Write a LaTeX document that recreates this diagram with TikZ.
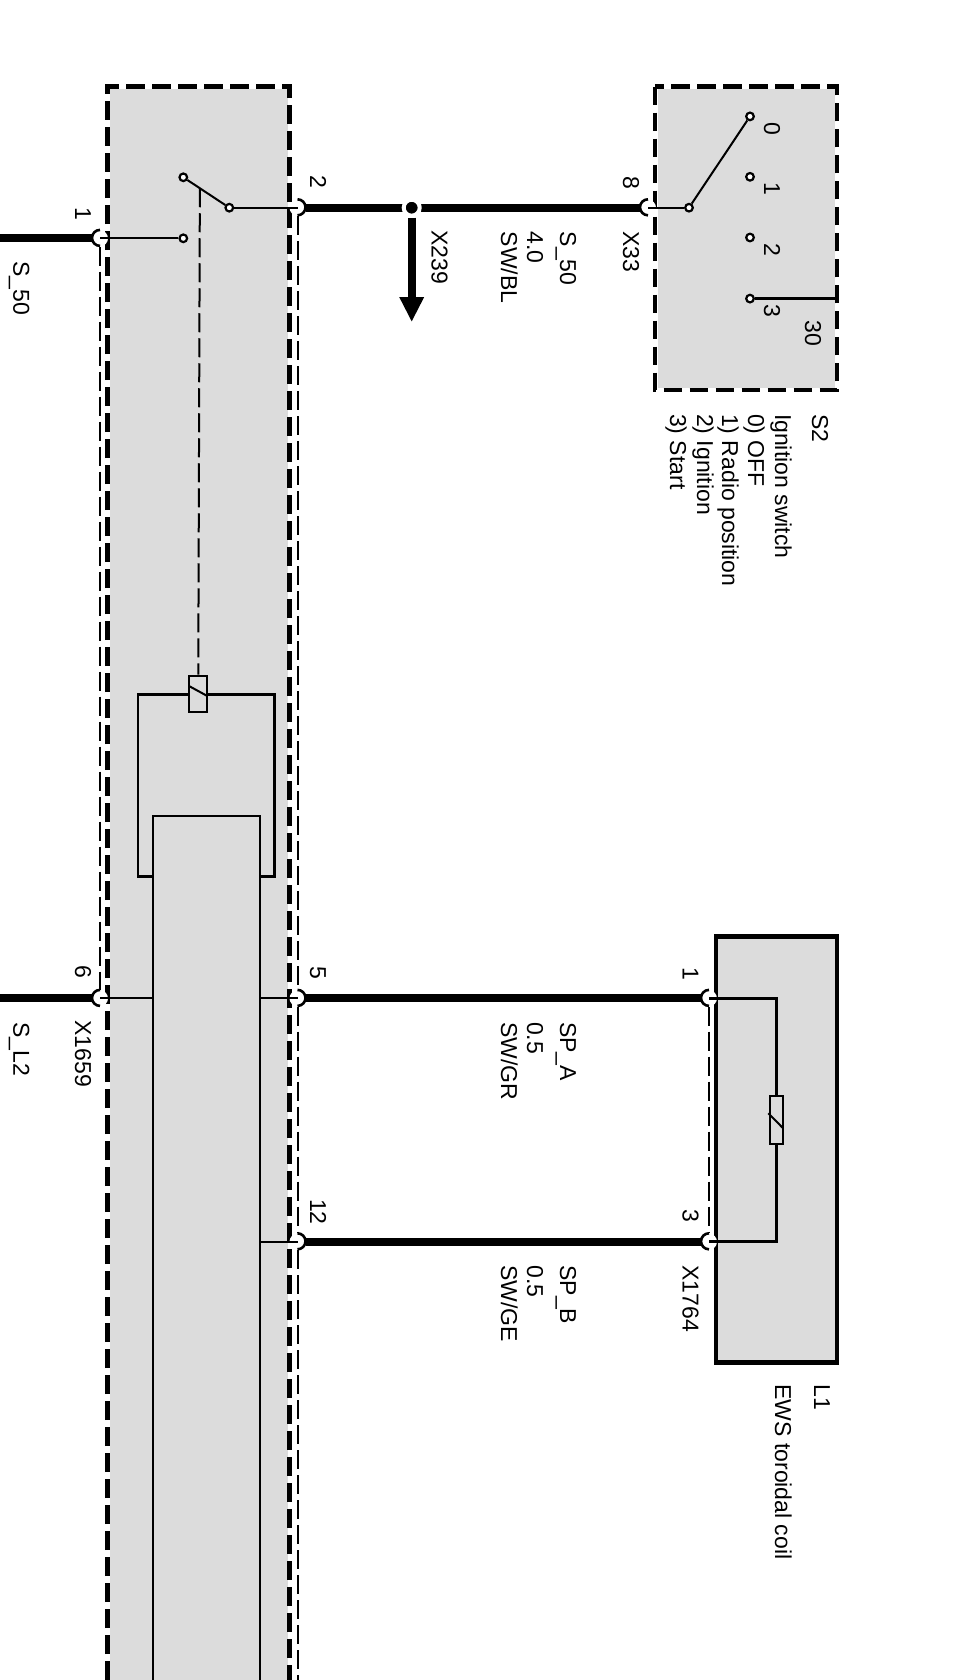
\documentclass[tikz,border=0pt]{standalone}
\usepackage{fontspec}
\setmainfont{Liberation Sans}
\usetikzlibrary{arrows.meta}

\definecolor{boxgray}{HTML}{DCDCDC}

\begin{document}
\begin{tikzpicture}[x=0.5pt, y=-0.5pt,
    label text/.style ={rotate=-90, anchor=base west, inner sep=0pt, font=\fontsize{11.5}{13}\selectfont},
    pin node/.style ={circle, fill=white, minimum size=8pt, inner sep=0pt},
    contact/.style ={circle, draw, fill=white, line width=1.1pt, minimum size=3.8pt, inner sep=0pt},
    coil box/.style ={rectangle, draw, fill=boxgray, line width=1pt, inner sep=0pt},
    hook/.style ={line width=1.3pt},
    wire bus/.style ={line width=4pt},
    wire thin/.style ={line width=1pt},
    wire frame/.style ={line width=1.35pt},
    bound/.style ={line width=2.4pt, dash pattern=on 9.3pt off 3.7pt},
    screen/.style ={line width=1pt, dash pattern=on 9.5pt off 3pt}]
   \clip (0,0) rectangle (959,1680);

   % control unit and ignition switch housings
   \fill[boxgray] (110,89) rectangle (287.5,1680);
   \draw[bound] (107.5,1680) -- (107.5,86.7) -- (289.5,86.7) -- (289.5,1680);
   \fill[boxgray] (657.5,89) rectangle (834.5,387.5);
   \draw[bound] (655,86.7) rectangle (837,390);
   \draw[fill=boxgray, line width=2.4pt] (716,936.7) rectangle (837,1362.7);
   \node[rectangle, draw, fill=boxgray, line width=0.9pt, inner sep=0pt, minimum width=53.2pt, minimum height=442pt] (ecu) at (206.5,1257.8) {};

   % pins
   \node[pin node] (p1) at (100,238.3) {};
   \node[pin node] (p2) at (297.5,207.7) {};
   \node[pin node] (p5) at (297.5,998.3) {};
   \node[pin node] (p6) at (100,998.3) {};
   \node[pin node] (p12) at (297.5,1241.7) {};
   \node[pin node] (p8) at (648,207.7) {};
   \node[pin node] (q1) at (709,998.3) {};
   \node[pin node] (q3) at (709,1241.7) {};
   \draw[hook] (p1.north) arc[start angle=90, end angle=270, radius=4pt];
   \draw[hook] (p6.north) arc[start angle=90, end angle=270, radius=4pt];
   \draw[hook] (p8.north) arc[start angle=90, end angle=270, radius=4pt];
   \draw[hook] (q1.north) arc[start angle=90, end angle=270, radius=4pt];
   \draw[hook] (q3.north) arc[start angle=90, end angle=270, radius=4pt];
   \draw[hook] (p2.north) arc[start angle=90, end angle=-90, radius=4pt];
   \draw[hook] (p5.north) arc[start angle=90, end angle=-90, radius=4pt];
   \draw[hook] (p12.north) arc[start angle=90, end angle=-90, radius=4pt];

   % free ends
   \coordinate (e1) at (0,238.3);
   \coordinate (e6) at (0,998.3);
   \coordinate (ebot) at (297.5,1680);
   \coordinate (tip) at (411.7,322);
   \coordinate (bat) at (837,298.6);

   % screens
   \draw[screen] (p1.south) -- (p6.north);
   \draw[screen] (p2.south) -- (p5.north);
   \draw[screen] (p5.south) -- (p12.north);
   \draw[screen] (p12.south) -- (ebot);
   \draw[screen] (q1.south) -- (q3.north);

   % bus wires
   \draw[wire bus] (e1) -- (p1.west);
   \draw[wire bus] (e6) -- (p6.west);
   \draw[wire bus] (p2.east) -- (p8.west);
   \draw[wire bus] (p5.east) -- (q1.west);
   \draw[wire bus] (p12.east) -- (q3.west);
   \node[circle, fill=black, draw=white, line width=2pt, minimum size=8pt, inner sep=0pt] (j1) at (411.7,207.7) {};
   \draw[wire bus, -{Triangle[length=12.5pt, width=11.5pt]}] (j1) -- (tip);

   % relay
   \node[contact] (r1) at (183.3,177.3) {};
   \node[contact] (r2) at (229.3,207.7) {};
   \node[contact] (r3) at (183.3,238.3) {};
   \draw[wire thin] (r2) -- coordinate[pos=0.67] (arm) (r1);
   \draw[wire thin] (p2.center) -- (r2);
   \draw[wire thin] (p1.center) -- (r3);
   \draw[wire thin] (p6.center) -- (p6.center -| ecu.west);
   \draw[wire thin] (p5.center) -- (p5.center -| ecu.east);
   \draw[wire thin] (p12.center) -- (p12.center -| ecu.east);
   \draw[wire frame] (ecu.west |- 0,876.7) -- (138,876.7) -- (138,694.3) -- (274.3,694.3) -- (274.3,876.7) -- (ecu.east |- 0,876.7);
   \node[coil box, minimum width=9.1pt, minimum height=18pt] (coil) at (198.2,693.7) {};
   \draw[wire thin] (189,686) -- (207.3,696);
   \draw[screen] (arm) -- (coil);

   % ignition switch
   \node[contact] (s) at (689,207.7) {};
   \node[contact] (s0) at (750,116.4) {};
   \node[contact] (s1) at (750,176.8) {};
   \node[contact] (s2) at (750,237.5) {};
   \node[contact] (s3) at (750,298.6) {};
   \draw[wire thin] (p8.center) -- (s);
   \draw[wire thin] (s) -- (s0);
   \draw[wire frame] (s3) -- (bat);

   % toroidal coil
   \node[coil box, minimum width=6.7pt, minimum height=24pt] (res) at (776.7,1120) {};
   \draw[wire frame] (q1.center) -- (q1.center -| res) -- (res);
   \draw[wire frame] (q3.center) -- (q3.center -| res) -- (res);
   \draw[wire thin] (768.3,1113.3) -- (782.6,1127.7);

   % labels
   \node[label text] (t1) at (75,206.7) {1};
   \node[label text] (t2) at (310,175) {2};
   \node[label text] (t5) at (310,966) {5};
   \node[label text] (t6) at (75,965) {6};
   \node[label text] (t12) at (310,1198.6) {12};
   \node[label text] (t8) at (623,176) {8};
   \node[label text] (tx33) at (623,230.7) {X33};
   \node[label text] (tx239) at (431.7,230) {X239};
   \node[label text] (tx1659) at (75,1020) {X1659};
   \node[label text] (ts1) at (13.3,261) {S\_50};
   \node[label text] (tsl2) at (13.3,1021.7) {S\_L2};
   \node[label text] (ts2) at (560,231.4) {S\_50};
   \node[label text] (ts3) at (527,231.4) {4.0};
   \node[label text] (ts4) at (501,231.4) {SW/BL};
   \node[label text] (ta1) at (560,1021.7) {SP\_A};
   \node[label text] (ta2) at (527,1021.7) {0.5};
   \node[label text] (ta3) at (501,1021.7) {SW/GR};
   \node[label text] (tb1) at (560,1265) {SP\_B};
   \node[label text] (tb2) at (527,1265) {0.5};
   \node[label text] (tb3) at (501,1265) {SW/GE};
   \node[label text] (tq1) at (682.7,966.7) {1};
   \node[label text] (tq3) at (682.7,1209) {3};
   \node[label text] (tx1764) at (682.7,1265) {X1764};
   \node[label text] (c0) at (764,122) {0};
   \node[label text] (c1) at (764,182) {1};
   \node[label text] (c2) at (764,243) {2};
   \node[label text] (c3) at (764,304) {3};
   \node[label text] (c30) at (805,320) {30};
   \node[label text] (d1) at (812,413.6) {S2};
   \node[label text] (d2) at (775,413.6) {Ignition switch};
   \node[label text] (d3) at (748,413.6) {0) OFF};
   \node[label text] (d4) at (722,413.6) {1) Radio position};
   \node[label text] (d5) at (697,413.6) {2) Ignition};
   \node[label text] (d6) at (670,413.6) {3) Start};
   \node[label text] (l1) at (814,1384) {L1};
   \node[label text] (l2) at (775,1384) {EWS toroidal coil};
\end{tikzpicture}
\end{document}
